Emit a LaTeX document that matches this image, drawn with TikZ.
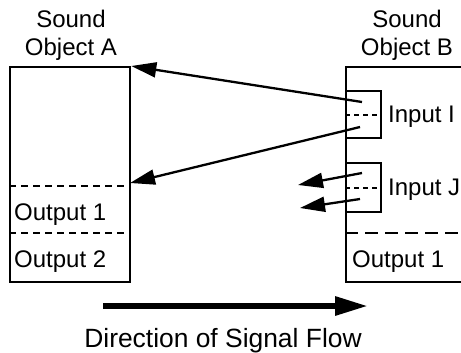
\documentclass[tikz,border=0pt]{standalone}
\usepackage{fontspec}
\setmainfont{Liberation Sans}
\usetikzlibrary{arrows.meta}
\begin{document}
\begin{tikzpicture}[x=1bp,y=-1bp,line width=2.3bp,
  lbl/.style={anchor=base west,inner sep=0pt,font=\fontsize{24bp}{28bp}\selectfont},
  ttl/.style={anchor=base,inner sep=0pt,font=\fontsize{24bp}{28bp}\selectfont},
  box/.style={draw,line width=2.3bp,inner sep=0pt,anchor=north west},
  sig/.style={-{Triangle[length=25bp,width=15bp]},line width=2.3bp},
  dlong/.style={line width=2.3bp,dash pattern=on 7bp off 5bp},
  dlongb/.style={line width=2.3bp,dash pattern=on 13bp off 7bp},
  dshort/.style={line width=2.3bp,dash pattern=on 5bp off 4bp}]
\clip (0,0) rectangle (461,352);
\fill[white] (0,0) rectangle (461,352);
% titles
\node[ttl] (tAs) at (71,27) {Sound};
\node[ttl] (tAo) at (71,55) {Object A};
\node[ttl] (tBs) at (407,27) {Sound};
\node[ttl] (tBo) at (407,55) {Object B};
% object A
\node[box,minimum width=120bp,minimum height=215bp] (A) at (9,66) {};
\draw[dlong] (A.west |- 0,186) -- (A.east |- 0,186);
\draw[dlong] (A.west |- 0,233) -- (A.east |- 0,233);
\node[lbl] (oA1) at (13,220) {Output 1};
\node[lbl] (oA2) at (13,267) {Output 2};
% object B
\node[box,minimum width=140bp,minimum height=215bp] (B) at (345,66) {};
\node[box,minimum width=35bp,minimum height=47bp] (inI) at (345,90) {};
\node[box,minimum width=35bp,minimum height=49bp] (inJ) at (345,162) {};
\draw[dshort] (inI.west) -- (inI.east);
\draw[dshort] (inJ.west) -- (inJ.east);
\draw[dlongb] (B.west |- 0,233) -- (B.east |- 0,233);
\node[lbl] (lI) at (387,122) {Input I};
\node[lbl] (lJ) at (387,195) {Input J};
\node[lbl] (oB1) at (351,267) {Output 1};
% connectors
\coordinate (i1) at (362,102);
\coordinate (i2) at (360,127);
\coordinate (a1) at (A.north east);
\coordinate (a2) at (130,183);
\coordinate (j1) at (362,173);
\coordinate (j1e) at (298,185);
\coordinate (j2) at (360,199);
\coordinate (j2e) at (300,208);
\draw[sig] (i1) -- (a1);
\draw[sig] (i2) -- (a2);
\draw[sig] (j1) -- (j1e);
\draw[sig] (j2) -- (j2e);
% direction
\coordinate (f1) at (103,306);
\coordinate (f2) at (368,306);
\draw[line width=6bp,-{Triangle[length=33bp,width=18bp]}] (f1) -- (f2);
\node[anchor=base,inner sep=0pt,font=\fontsize{26.4bp}{30bp}\selectfont] (dir) at (223,347) {Direction of Signal Flow};
\end{tikzpicture}
\end{document}
